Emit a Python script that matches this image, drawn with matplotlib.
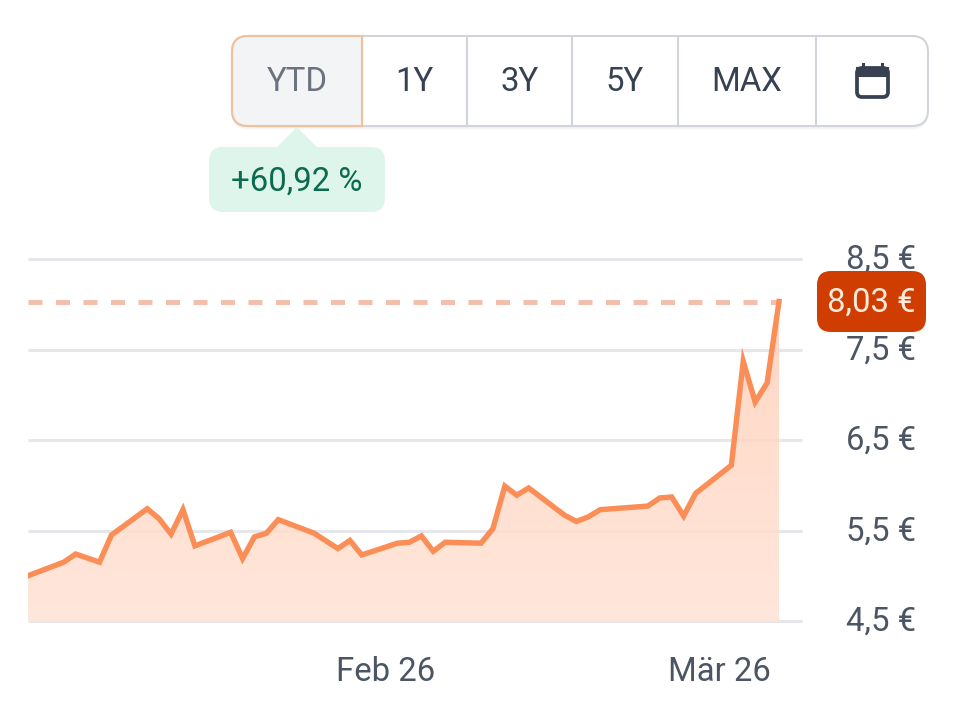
"""Share price widget: YTD area chart with range buttons and return badge."""

import matplotlib
matplotlib.use("Agg")
import matplotlib.dates as mdates
import matplotlib.pyplot as plt
import numpy as np
import pandas as pd
from matplotlib.colors import LinearSegmentedColormap
from matplotlib.patches import FancyBboxPatch, Polygon, Rectangle
from matplotlib.transforms import ScaledTranslation

plt.rcParams["font.family"] = ["Roboto", "DejaVu Sans"]

dates = [
    "2026-01-02", "2026-01-05", "2026-01-06", "2026-01-08", "2026-01-09",
    "2026-01-12", "2026-01-13", "2026-01-14", "2026-01-15", "2026-01-16",
    "2026-01-19", "2026-01-20", "2026-01-21", "2026-01-22", "2026-01-23",
    "2026-01-26", "2026-01-28", "2026-01-29", "2026-01-30", "2026-02-02",
    "2026-02-03", "2026-02-04", "2026-02-05", "2026-02-06", "2026-02-09",
    "2026-02-10", "2026-02-11", "2026-02-12", "2026-02-13", "2026-02-16",
    "2026-02-17", "2026-02-18", "2026-02-19", "2026-02-23", "2026-02-24",
    "2026-02-25", "2026-02-26", "2026-02-27", "2026-03-02", "2026-03-03",
    "2026-03-04", "2026-03-05", "2026-03-06",
]
prices = [
    5.00, 5.15, 5.24, 5.15, 5.45,
    5.74, 5.63, 5.46, 5.73, 5.33,
    5.48, 5.19, 5.43, 5.47, 5.62,
    5.47, 5.30, 5.39, 5.23, 5.36,
    5.37, 5.44, 5.27, 5.37, 5.36,
    5.52, 5.99, 5.89, 5.97, 5.67,
    5.60, 5.65, 5.73, 5.77, 5.86,
    5.87, 5.66, 5.91, 6.22, 7.37,
    6.92, 7.13, 8.03,
]
y_ticks = [4.5, 5.5, 6.5, 7.5, 8.5]
y_labels = ["4,5 €", "5,5 €", "6,5 €", "7,5 €", "8,5 €"]
x_ticks = ["2026-02-01", "2026-03-01"]
x_labels = ["Feb 26", "Mär 26"]
last_label = "8,03 €"
return_label = "+60,92 %"
range_labels = ["YTD", "1Y", "3Y", "5Y", "MAX"]

W, H = 970, 710
LINE = "#fb8d56"
BORDER = "#d1d5db"

x = mdates.date2num(pd.to_datetime(dates))
y = np.array(prices)

fig = plt.figure(figsize=(W / 100, H / 100), dpi=100, facecolor="white")

# chart area, placed so that the axis limits land on the gridline pixels
ax = fig.add_axes([28 / W, 1 - 621 / H, 774 / W, 362 / H])
x0 = x[0]
px_per_day = 751 / (x[-1] - x0)
xlim = (x0, x0 + 774 / px_per_day)
ylim = (4.5, 8.5)

# gradient fill under the line, clipped to the area polygon
cmap = LinearSegmentedColormap.from_list("area", ["#ffe3d5", "#ffcfb8"])
im = ax.imshow(
    np.linspace(0, 1, 256).reshape(-1, 1), cmap=cmap, origin="lower", aspect="auto",
    extent=(x[0], x[-1], ylim[0], y.max()), alpha=0.85, zorder=3,
)
area = Polygon(
    np.column_stack([np.r_[x[0], x, x[-1]], np.r_[ylim[0], y, ylim[0]]]),
    closed=True, transform=ax.transData, facecolor="none", edgecolor="none",
)
ax.add_patch(area)
im.set_clip_path(area)

ax.hlines(y[-1], x[0], x[-1], color="#f3bfad", linewidth=3.6, linestyles=(0, (2.8, 2.7)), zorder=4)
ax.plot(x, y, color=LINE, linewidth=3.9, solid_joinstyle="miter", zorder=5)

ax.set_xlim(xlim)
ax.set_ylim(ylim)
ax.yaxis.tick_right()
ax.set_yticks(y_ticks, y_labels)
ax.set_xticks(mdates.date2num(pd.to_datetime(x_ticks)), x_labels)
ax.tick_params(axis="y", length=0, pad=32, labelsize=23.7, labelcolor="#4b5563")
ax.tick_params(axis="x", length=0, pad=25, labelsize=23.7, labelcolor="#4b5563")
ax.grid(axis="y", color="#e5e7eb", linewidth=2.2, zorder=1)
ax.set_axisbelow(True)
for spine in ax.spines.values():
    spine.set_visible(False)
for gridline in ax.get_ygridlines():
    gridline.set_clip_on(False)
    gridline.set_solid_capstyle("butt")
# tick labels sit a little above their gridlines
nudge = ScaledTranslation(0, 2.5 / 100, fig.dpi_scale_trans)
for label in ax.get_yticklabels():
    label.set_transform(label.get_transform() + nudge)

# overlay in pixel coordinates for the widget controls
ui = fig.add_axes([0, 0, 1, 1], zorder=10)
ui.set_xlim(0, W)
ui.set_ylim(H, 0)
ui.axis("off")
ui.patch.set_alpha(0)


def rounded(x0, y0, x1, y1, radius, **kwargs):
    """Add a rounded rectangle given in pixel coordinates."""
    patch = FancyBboxPatch(
        (x0 + radius, y0 + radius), x1 - x0 - 2 * radius, y1 - y0 - 2 * radius,
        boxstyle=f"round,pad={radius},rounding_size={radius}", **kwargs,
    )
    ui.add_patch(patch)
    return patch


# button bar
for offset, alpha in [(4, 0.05), (2.5, 0.08)]:
    rounded(232, 38, 928, 126 + offset, 16, facecolor="#9ca3af", edgecolor="none", alpha=alpha)
bar = rounded(232, 36, 928, 126, 16, facecolor="white", edgecolor=BORDER, linewidth=1.5, zorder=2)

ytd = Rectangle((232, 36), 130, 90, facecolor="#f3f4f6", edgecolor="none", zorder=2.1)
ui.add_patch(ytd)
ytd.set_clip_path(bar)
outline = rounded(232, 36, 400, 126, 16, facecolor="none", edgecolor="#f2c19c", linewidth=1.5, zorder=2.3)
outline.set_clip_path(Rectangle((225, 30), 137.5, 100, transform=ui.transData))

for divider in [467, 572, 678, 816]:
    ui.plot([divider, divider], [36, 126], color=BORDER, linewidth=1.5, zorder=2.2)
ui.plot([362, 362], [36, 126], color="#f2c19c", linewidth=1.5, zorder=2.4)

label_x = [297, 414, 520, 625, 747]
for cx, text in zip(label_x, range_labels):
    color = "#6b7280" if text == "YTD" else "#374151"
    ui.text(cx, 78.5, text, ha="center", va="center_baseline", fontsize=23.7, color=color, zorder=3)

# calendar icon
rounded(857, 68, 888, 97, 5, facecolor="white", edgecolor="#374151", linewidth=2.7, zorder=3)
ui.add_patch(Rectangle((857, 68), 31, 8, facecolor="#374151", edgecolor="#374151", linewidth=1.5, zorder=3))
ui.plot([863, 863], [64, 69], color="#374151", linewidth=2.2, zorder=3)
ui.plot([882, 882], [64, 69], color="#374151", linewidth=2.2, zorder=3)

# return badge below the selected range
ui.add_patch(Polygon([(297, 127), (276, 148), (318, 148)], facecolor="#def5eb", edgecolor="none", zorder=2.5))
rounded(209, 147, 385, 212, 14, facecolor="#def5eb", edgecolor="none", zorder=2.5)
ui.text(297, 178.5, return_label, ha="center", va="center_baseline", fontsize=23.7, color="#0b6b4f", zorder=3)

# last price tag
rounded(817, 271, 926, 332, 14, facecolor="#cf3d00", edgecolor="none", zorder=3)
ui.text(871.5, 299, last_label, ha="center", va="center_baseline", fontsize=23.7, color="#ffeadb", zorder=4)

fig.savefig("out.png", dpi=100)
